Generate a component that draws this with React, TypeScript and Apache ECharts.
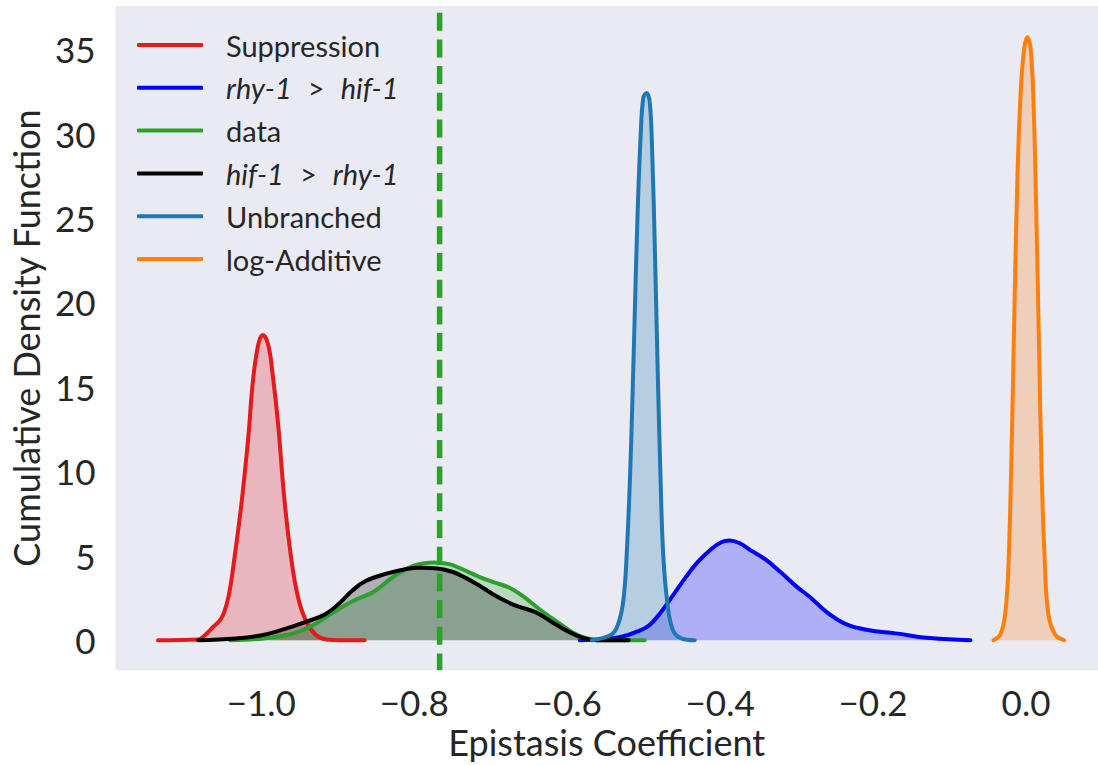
import React, { useEffect, useRef } from 'react';
import * as echarts from 'echarts';

const FONT = 'Lato, "Noto Sans", sans-serif';
const TEXT = '#262626';

// axis ranges and ticks
const X_MIN = -1.1906;
const X_MAX = 0.0941;
const Y_MIN = -1.768;
const Y_MAX = 37.55;
const xTicks = [-1.0, -0.8, -0.6, -0.4, -0.2, 0.0];
const yTicks = [0, 5, 10, 15, 20, 25, 30, 35];

// observed data value (dashed vertical line)
const dataValue = -0.7668;

// kernel density curves: [epistasis coefficient, density]
const suppression: [number, number][] = [
  [-1.135, 0], [-1.082, 0.04], [-1.076, 0.2], [-1.063, 0.78], [-1.052, 1.3], [-1.043, 2.55],
  [-1.035, 4.9], [-1.026, 8.05], [-1.017, 12.0], [-1.011, 15.3], [-1.004, 17.5], [-0.998, 18.07],
  [-0.991, 17.5], [-0.985, 15.7], [-0.978, 12.8], [-0.970, 8.45], [-0.961, 4.9], [-0.952, 2.55],
  [-0.941, 1.08], [-0.928, 0.29], [-0.915, 0.04], [-0.898, 0], [-0.865, 0],
];
const rhyOverHif: [number, number][] = [
  [-0.5835, 0], [-0.5548, 0.05], [-0.5288, 0.2], [-0.5092, 0.5], [-0.4936, 0.85], [-0.4767, 1.7],
  [-0.461, 2.7], [-0.4453, 3.7], [-0.4297, 4.6], [-0.4115, 5.4], [-0.3985, 5.8], [-0.388, 5.9],
  [-0.375, 5.75], [-0.3594, 5.3], [-0.3399, 4.75], [-0.3203, 4.0], [-0.3008, 3.2], [-0.2812, 2.5],
  [-0.2617, 1.7], [-0.2356, 0.95], [-0.2069, 0.6], [-0.1705, 0.4], [-0.1249, 0.12], [-0.0727, 0],
];
const dataKde: [number, number][] = [
  [-1.0408, 0], [-0.9978, 0.1], [-0.9587, 0.39], [-0.9326, 0.88], [-0.9066, 1.62], [-0.8805, 2.3],
  [-0.8518, 2.9], [-0.8258, 3.8], [-0.7997, 4.42], [-0.7737, 4.6], [-0.7541, 4.5], [-0.7411, 4.28],
  [-0.7151, 3.75], [-0.6943, 3.4], [-0.676, 3.12], [-0.6591, 2.65], [-0.637, 1.86], [-0.6162, 1.18],
  [-0.5939, 0.49], [-0.5771, 0.14], [-0.5587, 0], [-0.4987, 0],
];
const hifOverRhy: [number, number][] = [
  [-1.0824, 0], [-1.033, 0.1], [-0.9978, 0.3], [-0.9678, 0.68], [-0.9418, 1.08], [-0.9157, 1.55],
  [-0.8975, 2.2], [-0.8805, 2.95], [-0.8636, 3.5], [-0.8376, 3.92], [-0.8115, 4.2], [-0.792, 4.28],
  [-0.7698, 4.24], [-0.7503, 4.05], [-0.7334, 3.7], [-0.7151, 3.24], [-0.6943, 2.65], [-0.6682, 2.06],
  [-0.6422, 1.67], [-0.62, 1.08], [-0.5979, 0.49], [-0.5771, 0.1], [-0.5614, 0], [-0.5197, 0],
];
const unbranched: [number, number][] = [
  [-0.5678, 0], [-0.5418, 0.34], [-0.533, 1.0], [-0.5265, 2.36], [-0.5222, 5.06], [-0.5179, 9.56],
  [-0.5148, 14.06], [-0.5114, 19.7], [-0.5079, 25.3], [-0.504, 29.8], [-0.5005, 32.1], [-0.4962, 32.4],
  [-0.4919, 31.8], [-0.4887, 28.7], [-0.4853, 23.1], [-0.4818, 16.3], [-0.4779, 9.56], [-0.4744, 5.06],
  [-0.4688, 2.14], [-0.4614, 0.56], [-0.4506, 0.11], [-0.4332, 0],
];
const logAdditive: [number, number][] = [
  [-0.0423, 0], [-0.0336, 0.33], [-0.0271, 1.6], [-0.0228, 4.67], [-0.0184, 12.3], [-0.015, 20.0],
  [-0.0111, 27.7], [-0.0066, 32.8], [-0.0023, 35.06], [0.0015, 35.7], [0.006, 35.06], [0.01, 31.5],
  [0.0135, 25.1], [0.017, 17.4], [0.0205, 9.8], [0.0245, 4.67], [0.029, 1.6], [0.038, 0.33],
  [0.0498, 0],
];

const seriesNames = ['Suppression', 'rhy-1 > hif-1', 'data', 'hif-1 > rhy-1', 'Unbranched', 'log-Additive'];
const seriesColors = ['#e41a1c', '#0000ff', '#2ca02c', '#000000', '#1f77b4', '#ff7f0e'];
const seriesData = [suppression, rhyOverHif, dataKde, hifOverRhy, unbranched, logAdditive];

const fmtX = (v: number) => {
  const r = Math.round(v * 10) / 10;
  return (r < 0 ? '\u2212' : '') + Math.abs(r).toFixed(1);
};

const legendFmt = (name: string) => {
  if (name.includes(' > ')) {
    const [a, b] = name.split(' > ');
    return `{i|${a}}{g|>}{i|${b}}`;
  }
  return `{n|${name}}`;
};

export default function App() {
  const ref = useRef<HTMLDivElement>(null);
  useEffect(() => {
    if (!ref.current) return;
    const chart = echarts.init(ref.current, undefined, { renderer: 'svg' });
    const fills = seriesData.map((d, i) => ({
      type: 'line',
      name: '__fill' + i,
      data: d,
      symbol: 'none',
      smooth: 0.4,
      silent: true,
      lineStyle: { width: 0, opacity: 0 },
      areaStyle: { color: seriesColors[i], opacity: 0.25 },
      z: 1,
    }));
    const lines = seriesData.map((d, i) => ({
      type: 'line',
      name: seriesNames[i],
      data: d,
      symbol: 'none',
      smooth: 0.4,
      lineStyle: { width: 4, color: seriesColors[i], cap: 'round', join: 'round' },
      itemStyle: { color: seriesColors[i] },
      z: 3,
    }));
    const rich = {
      i: { fontStyle: 'italic', fontFamily: FONT, fontSize: 29, color: TEXT },
      n: { fontFamily: FONT, fontSize: 29, color: TEXT },
      g: { fontFamily: FONT, fontSize: 29, color: TEXT, padding: [0, 16, 0, 16] },
    };
    chart.setOption({
      animation: false,
      grid: {
        left: 112, right: 0, top: 6, bottom: 91.7,
        show: true, backgroundColor: '#eaeaf2', borderWidth: 0,
      },
      legend: {
        data: seriesNames,
        orient: 'vertical',
        left: 137,
        top: 29,
        padding: 0,
        itemWidth: 66,
        itemHeight: 4,
        itemGap: 10.8,
        icon: 'roundRect',
        selectedMode: false,
        formatter: legendFmt,
        textStyle: { fontFamily: FONT, fontSize: 29, color: TEXT, lineHeight: 32, padding: [0, 0, 0, 18], rich },
      },
      xAxis: {
        type: 'value',
        min: X_MIN,
        max: X_MAX,
        axisLine: { show: false },
        axisTick: { show: false },
        splitLine: { show: false },
        axisLabel: {
          customValues: xTicks,
          formatter: fmtX,
          fontFamily: FONT,
          fontSize: 35,
          color: TEXT,
          margin: 14,
        },
        name: 'Epistasis Coefficient',
        nameLocation: 'middle',
        nameGap: 54,
        nameTextStyle: { fontFamily: FONT, fontSize: 36, color: TEXT },
      },
      yAxis: {
        type: 'value',
        min: Y_MIN,
        max: Y_MAX,
        axisLine: { show: false },
        axisTick: { show: false },
        splitLine: { show: false },
        axisLabel: {
          customValues: yTicks,
          formatter: (v: number) => String(Math.round(v)),
          fontFamily: FONT,
          fontSize: 35,
          color: TEXT,
          margin: 20,
        },
        name: 'Cumulative Density Function',
        nameLocation: 'middle',
        nameGap: 68,
        nameTextStyle: { fontFamily: FONT, fontSize: 36, color: TEXT },
      },
      series: [
        ...fills,
        ...lines,
        {
          type: 'line',
          name: '__observed',
          data: [[dataValue, Y_MAX], [dataValue, Y_MIN]],
          symbol: 'none',
          silent: true,
          lineStyle: { width: 5.5, color: '#2ca02c', type: [18, 8.7], dashOffset: 20, cap: 'butt' },
          z: 4,
        },
      ],
    });
    return () => chart.dispose();
  }, []);
  return (
    <div
      ref={ref}
      style={{ position: 'fixed', left: 0, top: 0, width: 1098, height: 765, background: '#ffffff' }}
    />
  );
}
